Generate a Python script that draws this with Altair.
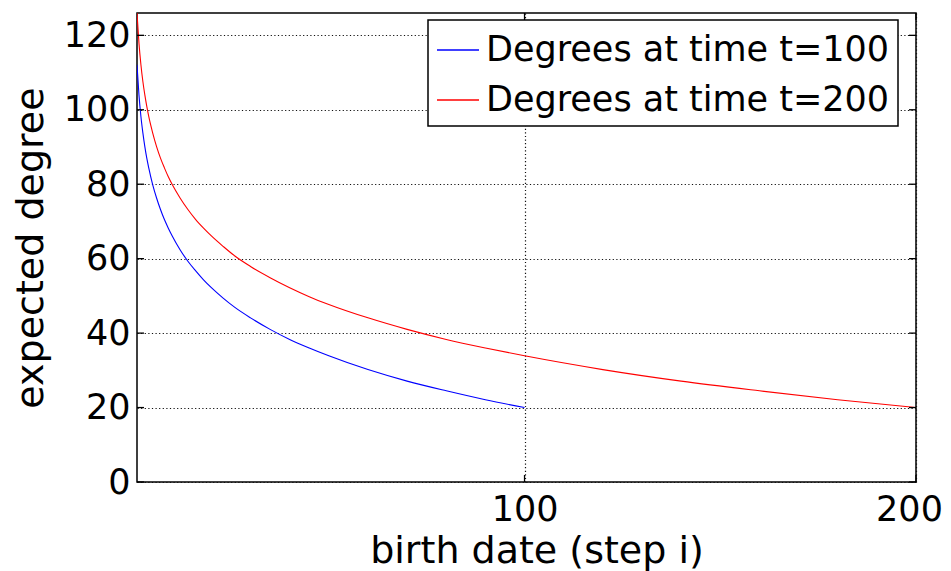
import altair as alt
import pandas as pd

X_T100 = [1, 1.5, 2, 2.5, 3, 3.5, 4, 5, 6, 7, 8, 9, 10, 12, 14, 16, 18, 20, 23, 26,
          30, 35, 40, 45, 50, 60, 70, 80, 90, 100]
Y_T100 = [112.1, 104.0, 98.2, 93.8, 90.1, 87.0, 84.4, 79.9, 76.3, 73.2, 70.5, 68.2,
          66.1, 62.4, 59.3, 56.7, 54.3, 52.2, 49.4, 46.9, 44.1, 41.0, 38.3, 36.0,
          33.9, 30.2, 27.1, 24.5, 22.1, 20.0]
X_T200 = [1, 1.5, 2, 2.5, 3, 3.5, 4, 5, 6, 7, 8, 9, 10, 12, 14, 16, 18, 20, 23, 26,
          30, 35, 40, 45, 50, 60, 70, 80, 90, 100, 120, 140, 160, 180, 200]
Y_T200 = [126.0, 117.9, 112.1, 107.6, 104.0, 100.9, 98.2, 93.8, 90.1, 87.0, 84.4,
          82.0, 79.9, 76.3, 73.2, 70.5, 68.2, 66.1, 63.3, 60.7, 57.9, 54.9, 52.2,
          49.8, 47.7, 44.1, 41.0, 38.3, 36.0, 33.9, 30.2, 27.1, 24.5, 22.1, 20.0]
SERIES = ["Degrees at time t=100", "Degrees at time t=200"]
COLORS = ["#0000ff", "#ff0000"]
X_TICKS = [100, 200]
Y_TICKS = [0, 20, 40, 60, 80, 100, 120]
X_DOMAIN = [1, 200]
Y_DOMAIN = [0, 126]

rows = [{"i": x, "k": y, "series": SERIES[0]} for x, y in zip(X_T100, Y_T100)]
rows += [{"i": x, "k": y, "series": SERIES[1]} for x, y in zip(X_T200, Y_T200)]
df = pd.DataFrame(rows)
ytick_df = pd.DataFrame({"v": Y_TICKS})
xtick_df = pd.DataFrame({"v": X_TICKS})

W, H = 779, 469
FONT = "DejaVu Sans"

xscale = alt.Scale(domain=X_DOMAIN, nice=False, zero=False)
yscale = alt.Scale(domain=Y_DOMAIN, nice=False)

lines = alt.Chart(df).mark_line(strokeWidth=1.1, clip=True, interpolate="monotone").encode(
    x=alt.X("i:Q", scale=xscale,
            axis=alt.Axis(values=X_TICKS, title="birth date (step i)", grid=True,
                          tickSize=0, labelPadding=10, labelFlush=False,
                          labelOffset={"condition": {"test": "datum.value == 200", "value": -7},
                                       "value": 0},
                          titleBaseline="alphabetic", titleY=80, titleX=W / 2 + 10)),
    y=alt.Y("k:Q", scale=yscale,
            axis=alt.Axis(values=Y_TICKS, title="expected degree", grid=True,
                          tickSize=0, labelPadding=7, labelFlush=False,
                          titleBaseline="alphabetic", titleX=-95, titleY=H / 2)),
    color=alt.Color("series:N",
                    scale=alt.Scale(domain=SERIES, range=COLORS),
                    legend=alt.Legend(title=None, orient="none", legendX=291, legendY=7,
                                      symbolType="stroke", symbolSize=1764,
                                      symbolStrokeWidth=1.3, labelFont=FONT,
                                      labelFontSize=35, labelOffset=6,
                                      rowPadding=10, padding=8,
                                      strokeColor="black", fillColor="white",
                                      labelLimit=1000)),
    order=alt.Order("i:Q"),
)

tick_style = dict(color="black", strokeWidth=1.3)
yt_left = alt.Chart(ytick_df).mark_rule(**tick_style).encode(
    y=alt.Y("v:Q", scale=yscale), x=alt.value(0), x2=alt.value(7))
yt_right = alt.Chart(ytick_df).mark_rule(**tick_style).encode(
    y=alt.Y("v:Q", scale=yscale), x=alt.value(W - 7), x2=alt.value(W))
xt_bot = alt.Chart(xtick_df).mark_rule(**tick_style).encode(
    x=alt.X("v:Q", scale=xscale), y=alt.value(H - 7), y2=alt.value(H))
xt_top = alt.Chart(xtick_df).mark_rule(**tick_style).encode(
    x=alt.X("v:Q", scale=xscale), y=alt.value(0), y2=alt.value(7))

chart = alt.layer(lines, yt_left, yt_right, xt_bot, xt_top).properties(
    width=W, height=H,
    autosize=alt.AutoSizeParams(type="none"),
    padding={"left": 129, "top": 5, "right": 27, "bottom": 95},
).configure_view(
    stroke="black", strokeWidth=1.5
).configure_axis(
    domain=False,
    gridColor="#111111", gridOpacity=1, gridDash=[1.2, 2.4], gridWidth=1.2,
    labelFont=FONT, labelFontSize=35, labelColor="black",
    titleFont=FONT, titleFontSize=38, titleFontWeight="normal", titleColor="black",
).configure_legend(
    strokeWidth=1.5
)

chart.save("out.html", embed_options={"renderer": "svg", "actions": False})
